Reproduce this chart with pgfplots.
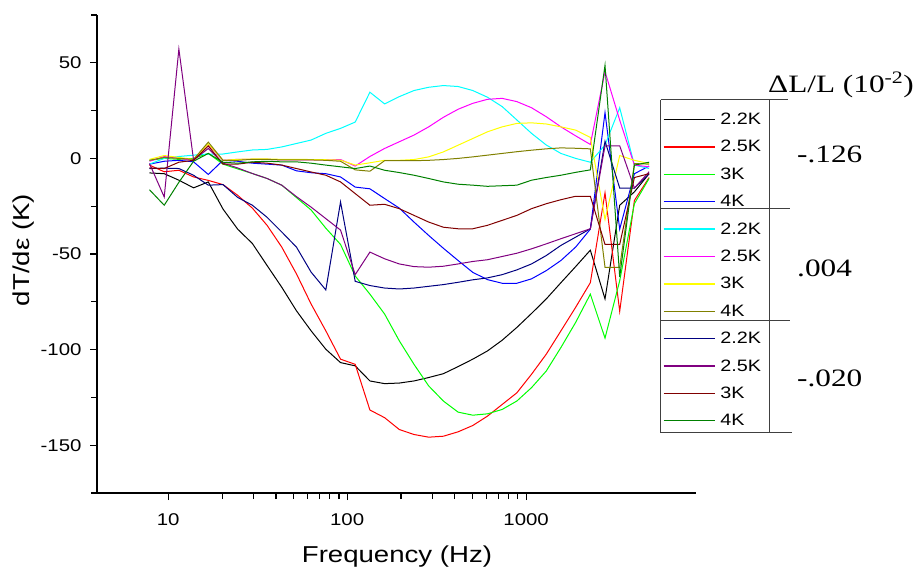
\documentclass[border=0pt]{standalone}
\usepackage{pgfplots}
\usepackage{pgfplotstable}
\pgfplotsset{compat=1.18}
\usepackage{fontspec}
\setmainfont{Liberation Sans}[FakeStretch=1.2]
\newfontfamily\tnr{Liberation Serif}[FakeStretch=1.25]
\definecolor{cBlack}{RGB}{0,0,0}
\definecolor{cRed}{RGB}{255,0,0}
\definecolor{cLime}{RGB}{0,255,0}
\definecolor{cBlue}{RGB}{0,0,255}
\definecolor{cCyan}{RGB}{0,255,255}
\definecolor{cMag}{RGB}{255,0,255}
\definecolor{cYel}{RGB}{255,255,0}
\definecolor{cOlive}{RGB}{128,128,0}
\definecolor{cNavy}{RGB}{0,0,128}
\definecolor{cPurp}{RGB}{128,0,128}
\definecolor{cWine}{RGB}{128,0,0}
\definecolor{cDG}{RGB}{0,128,0}
\pgfplotstableread{
f a b c d e g h k m n p q
7.86 -7.6 -3.5 -1 -3 -3 -1.5 -0.5 -1 -5.3 -2.7 -5 -16.4
9.50 -8 -7 0 -1.5 0 1 1.5 0.5 -5.1 -20.2 -5.3 -24.5
11.47 -11.4 -6.2 -0.5 -1 1 0 0.5 0 -5.3 57.2 -2 -12.5
13.86 -15.4 -9.7 0 -1.8 1.7 -1 -0.5 -0.5 -8.8 -0.9 -1 -1.5
16.75 -12.3 -11.5 2.6 -8.4 2.3 7 7.5 8.5 -14 5.2 6.5 2.6
20.24 -26.5 -13.7 -3 -1 2.3 -1 -1 -1 -13.7 -2.5 -3 -2
24.44 -37 -19.3 -5.5 -1.5 3.4 -0.5 -0.5 -1 -20.4 -5 -3 -2.5
29.53 -44.5 -26 -7.9 -2.5 4.4 -0.5 -0.3 -0.5 -24.5 -7.9 -2 -1.8
35.68 -56 -35 -10.5 -3 4.7 -0.5 -0.3 -0.5 -30.8 -10.5 -2.5 -1.5
43.11 -67.4 -46.4 -14 -3.5 6 -0.8 -0.5 -0.8 -38.5 -14 -3.5 -1.8
52.08 -79.7 -60.4 -20.5 -6.5 7.8 -0.8 -0.5 -0.8 -46.4 -20 -5.3 -1.8
62.91 -90.2 -76.2 -27 -7.5 9.6 -0.8 -0.6 -0.8 -59.5 -25.5 -7.1 -2.5
76.01 -99.8 -90.2 -36.5 -8 13.1 -0.8 -0.7 -1 -68.8 -31.5 -8.8 -3.5
91.83 -106.8 -105 -45 -9.7 15.7 -0.6 -0.9 -1.5 -22.8 -37.5 -12.3 -4.4
110.9 -108.5 -107.7 -61.5 -15 19 -4 -3.5 -6 -64.3 -60.8 -18.4 -5.3
134.0 -116.4 -131.6 -71 -15.9 34.6 1 -2.3 -6.7 -66.5 -49 -24.5 -4
161.9 -117.8 -135.6 -81.4 -21 28.5 5.2 -1 -1.2 -67.8 -52.5 -24 -6.2
195.6 -117.5 -141.8 -95.4 -26 32.3 8.7 -1 -1.2 -68.3 -55.2 -26.3 -7.4
236.3 -116.4 -144.4 -107.7 -33.3 35.5 12.2 -0.6 -1.2 -67.8 -56.6 -29.8 -8.8
285.5 -114.6 -145.8 -119 -40.3 37.2 16.5 0.8 -1 -66.9 -56.9 -33.3 -10.5
344.9 -112.6 -145.3 -126.9 -47 38.1 21.5 3.4 -0.6 -66 -56.4 -36 -12.3
416.7 -108.9 -143 -132.7 -53.4 37.6 25.7 6.9 0 -64.8 -55.2 -36.8 -13.5
503.4 -105 -139.7 -134.3 -59.6 35.5 28.8 10.4 0.8 -63.5 -53.9 -36.8 -14
608.1 -100.7 -134.8 -133.6 -63.4 32 30.9 13.9 1.7 -62.5 -53 -35 -14.6
734.8 -95.1 -128.7 -131.3 -65.3 27.1 31.4 16.5 2.6 -60.8 -51.3 -32.4 -14.3
887.7 -88.4 -122.6 -126.9 -65.3 20.1 29.7 18.3 3.5 -58.3 -49.6 -29.8 -14
1072 -81.1 -112.9 -119.9 -63 13.1 26.5 18.6 4.3 -55.2 -47.3 -26.3 -11.4
1296 -73.5 -102.4 -111.2 -58.7 7 21.8 18 5 -50.8 -44.7 -23.7 -10
1565 -65 -90.2 -98.9 -53.4 2.6 16.5 16.5 5.5 -45.5 -42 -21.6 -8.8
1891 -56.6 -77.9 -85.8 -46.4 0 11.8 14.8 5.3 -41.2 -39.4 -19.8 -7.3
2285 -48 -65 -71 -37 -2 7.3 11 5 -36.8 -36.8 -19.8 -6
2760 -73.5 -18 -94 24 7 45.4 -32 -57 9 6.6 -45 48.7
3334 -24.5 -80 -64 -37 26.5 20 1.5 -57 -15.5 6.6 -45 -62
4028 -17.5 -22 -23.7 -8 -3.5 -3.5 -1 -2.7 -15.5 -15.5 -10 -3.5
4867 -8 -10 -10.5 -4 -5.3 -4.4 -2.7 -3 -8 -7 -8 -2
}\data
\begin{document}
\begin{tikzpicture}[x=1pt,y=1pt]
\useasboundingbox (0,0) rectangle (919,571);
\begin{axis}[
  at={(97pt,78pt)}, anchor=south west,
  width=599pt, height=478pt, scale only axis,
  xmode=log, xmin=4, xmax=8900, ymin=-175, ymax=75,
  axis x line*=bottom, axis y line*=left,
  axis line style={-, line width=1.3pt},
  tick align=outside,
  major tick length=7pt, minor tick length=6pt,
  every tick/.style={black, line width=1.1pt},
  xtick={10,100,1000}, xticklabels={10,100,1000},
  ytick={-150,-100,-50,0,50}, yticklabels={-150,-100,-50,0,50},
  minor ytick={-175,-125,-75,-25,25,75},
  ticklabel style={font=\fontsize{17}{17}\selectfont},
  xticklabel style={yshift=-10pt},
  yticklabel style={xshift=-5pt},
  xlabel={Frequency (Hz)}, ylabel={dT/dε (K)},
  label style={font=\fontsize{23}{23}\selectfont},
  xlabel style={at={(axis description cs:0.5008,0)}, anchor=base, yshift=-69pt},
  ylabel style={at={(axis description cs:-0.1119,0.508)}, anchor=base},
  legend cell align=left,
  legend image code/.code={\draw[#1, line width=1.3pt] (0pt,0pt) -- (51pt,0pt);},
  legend style={at={(axis description cs:0.94491,0.79498)}, anchor=north west,
    draw=none, fill=none, inner sep=0pt, outer sep=0pt,
    font=\fontsize{16.5}{16.5}\selectfont,
    nodes={inner sep=0pt, outer sep=0pt},
    row sep=14.41pt, column sep=5pt},
  every axis plot/.append style={line width=1pt},
]
\addplot[cBlack] table[x=f,y=a]{\data};
\addplot[cRed] table[x=f,y=b]{\data};
\addplot[cLime] table[x=f,y=c]{\data};
\addplot[cBlue] table[x=f,y=d]{\data};
\addplot[cCyan] table[x=f,y=e]{\data};
\addplot[cMag] table[x=f,y=g]{\data};
\addplot[cYel] table[x=f,y=h]{\data};
\addplot[cOlive] table[x=f,y=k]{\data};
\addplot[cNavy] table[x=f,y=m]{\data};
\addplot[cPurp] table[x=f,y=n]{\data};
\addplot[cWine] table[x=f,y=p]{\data};
\addplot[cDG] table[x=f,y=q]{\data};
\legend{2.2K,2.5K,3K,4K,2.2K,2.5K,3K,4K,2.2K,2.5K,3K,4K}
\end{axis}
\begin{scope}[line width=1pt, draw=black!75]
\draw (660.7,471) -- (660.7,138.3);
\draw (769,471) -- (769,138.3);
\draw (660.7,471) -- (788,471);
\draw (660.7,362) -- (790,362);
\draw (660.7,250) -- (790,250);
\draw (660.7,138.3) -- (792,138.3);
\end{scope}
\node[anchor=base west, inner sep=0pt, font=\tnr\fontsize{25}{25}\selectfont] at (768,478) {ΔL/L (10\textsuperscript{-2})};
\node[anchor=base west, inner sep=0pt, font=\tnr\fontsize{25}{25}\selectfont] at (797,408) {-.126};
\node[anchor=base west, inner sep=0pt, font=\tnr\fontsize{25}{25}\selectfont] at (797,294) {.004};
\node[anchor=base west, inner sep=0pt, font=\tnr\fontsize{25}{25}\selectfont] at (797,184) {-.020};
\end{tikzpicture}
\end{document}
